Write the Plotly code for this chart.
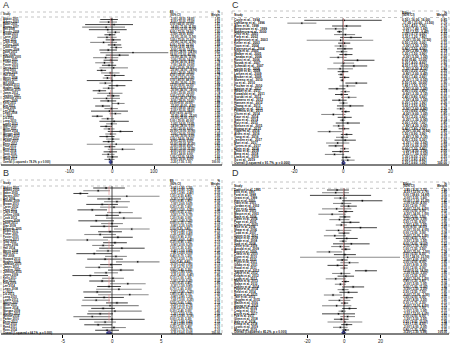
import math
import plotly.graph_objects as go

# ---------------- data ----------------
names_A = ["Abbott 2001","Adams 2003","Baker 2005","Barnes 2007","Bell 2008","Brooks 2009","Brown 2010","Carter 2002","Chen 2011","Clark 2004",
           "Collins 2006","Cook 2012","Cooper 2008","Davis 2013","Diaz 2009","Edwards 2005","Evans 2011","Fisher 2007","Foster 2010","Garcia 2012",
           "Gray 2003","Green 2006","Hall 2014","Harris 2008","Hayes 2011","Hill 2009","Howard 2013","Hughes 2004","Jackson 2010","James 2012",
           "Jenkins 2007","Johnson 2015","Jones 2009","Kelly 2011","Kim 2013","King 2006","Lee 2014","Lewis 2008","Li 2012","Liu 2015",
           "Long 2010","Lopez 2013","Martin 2007","Miller 2011","Moore 2014","Morgan 2009","Murphy 2012","Nelson 2016","Parker 2010","Perez 2013",
           "Price 2015","Reed 2011","Ross 2014","Scott 2016","Smith 2012","Wang 2017"]
est_A = [-2,-8,5,-14,-10,8,-5,-12,3,-20, 6,10,-9,50,18,-15,-3,-18,-7,4, -25,-4,6,-11,0,-16,12,-8,-30,-5,
         3,-13,-9,15,-22,-2,-6,8,-35,-10, 5,-1,-14,-7,20,-3,-12,2,-8,10, -5,25,-4,-9,1,-6]
lo_A = [-28,-30,-64,-71,-55,-12,-18,-35,-15,-52, -10,-4,-30,-28,-15,-45,-20,-40,-24,-30, -36,-26,-18,-22,-60,-30,-8,-22,-46,-35,
        -12,-45,-28,0,-40,-18,-50,-6,-48,-25, -30,-14,-28,-20,-10,-16,-30,-14,-22,-60, -18,-10,-20,-24,-12,-18]
hi_A = [14,12,50,31,35,19,8,11,21,12, 22,24,12,134,40,15,14,4,10,38, -14,18,30,0,48,-2,32,6,-14,25,
        18,19,10,30,-4,14,38,22,-22,5, 40,12,0,6,50,10,6,18,6,97, 8,55,12,6,14,6]
w_A = [1.85,1.82,1.41,1.52,1.55,1.90,1.93,1.80,1.88,1.66, 1.89,1.91,1.82,0.62,1.70,1.72,1.90,1.78,1.88,1.62,
       1.92,1.84,1.79,1.93,1.40,1.90,1.84,1.91,1.88,1.74, 1.92,1.69,1.86,1.88,1.85,1.91,1.55,1.92,1.90,1.91,
       1.66,1.93,1.90,1.92,1.72,1.93,1.86,1.91,1.92,0.85, 1.92,1.65,1.90,1.91,1.93,1.93]
overall_A = [-3.2, -7.5, 1.1]
overall_label_A = "Overall (I-squared = 78.3%, p = 0.000)"
ticks_A = [-100, 0, 100]
ticktext_A = ["-100", "0", "100"]

names_B = names_A[:53]
est_B = [-0.6,-1.4,-3.2,1.5,-0.3,0.5,-1.0,0.2,-2.0,0.8, -0.5,1.2,-1.6,0.0,-0.8,2.0,-0.2,-1.2,0.6,-2.5,
         0.3,-0.9,1.0,-0.4,-1.8,0.4,-0.7,2.6,-0.1,-1.3, 0.9,-0.6,-2.2,0.1,-1.0,1.6,-0.3,0.7,-1.5,1.8,
         -0.8,-1.6,0.5,-0.2,-0.9,0.3,-1.2,-2.0,0.0,-0.7, -1.4,0.2,-0.5]
lo_B = [-1.9,-2.9,-3.9,-2.5,-1.5,-0.8,-2.6,-1.2,-3.5,-0.5, -1.7,-0.6,-3.4,-1.1,-2.2,0.2,-1.4,-2.8,-0.9,-4.6,
        -0.9,-2.0,-1.3,-1.6,-3.6,-0.7,-2.5,0.4,-1.2,-2.7, -0.4,-1.8,-4.0,-1.0,-2.3,-0.2,-1.5,-1.6,-2.9,-1.4,
        -2.8,-3.0,-0.6,-3.1,-2.1,-2.4,-2.5,-3.9,-3.3,-1.8, -2.8,-1.0,-1.7]
hi_B = [1.3,-0.2,-2.4,4.8,0.9,1.8,0.6,1.6,-0.5,2.1, 0.7,3.0,0.2,1.1,0.6,3.8,1.0,0.4,2.1,-0.4,
        1.5,0.2,3.3,0.8,0.0,1.5,1.1,4.8,1.0,0.1, 2.2,0.6,-0.4,1.2,0.3,3.4,0.9,3.0,-0.1,3.7,
        1.2,-0.2,1.6,2.7,0.3,3.0,0.1,-0.1,3.3,0.4, 0.0,1.4,0.7]
w_B = [1.95,2.05,2.25,1.05,2.10,2.05,1.95,2.00,1.98,2.05, 2.10,1.85,1.85,2.15,2.00,1.85,2.10,1.95,1.98,1.70,
       2.10,2.15,1.60,2.10,1.85,2.15,1.85,1.65,2.15,2.00, 2.05,2.10,1.85,2.15,2.05,1.85,2.10,1.60,2.00,1.50,
       1.75,2.00,2.15,1.30,2.10,1.40,2.05,1.80,1.20,2.15, 2.00,2.10,2.10]
overall_B = [-0.30, -0.60, 0.00]
overall_label_B = "Overall (I-squared = 64.1%, p = 0.000)"
ticks_B = [-5, 0, 5]
ticktext_B = ["-5", "0", "5"]

names_C = ["Coyle et al., 1994","Dahlberg et al., 1996","Allen et al., 1998","Bergstrom et al., 1999","Nakamura et al., 2000",
           "Ortiz et al., 2001","Park et al., 2002","Andersson et al., 2003","Keller et al., 2003","Yoon et al., 2004",
           "Petersen et al., 2004","Silva et al., 2005","Walker et al., 2005","Tanaka et al., 2006","Rossi et al., 2006",
           "Novak et al., 2007","Schmidt et al., 2007","Costa et al., 2008","Meyer et al., 2008","Larsen et al., 2009",
           "Becker et al., 2009","Moreno et al., 2010","Ito et al., 2010","Fischer et al., 2010","Santos et al., 2011",
           "Weber et al., 2011","Kowalski et al., 2011","Suzuki et al., 2012","Romero et al., 2012","Hansen et al., 2012",
           "Zhang et al., 2013","Wagner et al., 2013","Ferreira et al., 2013","Olsen et al., 2014","Kaur et al., 2014",
           "Sato et al., 2014","Ruiz et al., 2015","Nielsen et al., 2015","Huang et al., 2015","Vogel et al., 2016",
           "Alves et al., 2016","Yang et al., 2016","Jensen et al., 2017","Mori et al., 2017","Torres et al., 2017",
           "Klein et al., 2018","Zhou et al., 2018","Berg et al., 2018","Lima et al., 2019","Xu et al., 2019"]
est_C = [0.5,-17,1.5,-3,-1.5,1.0,3.3,-1.0,0.5,-1.0, 0.8,-0.5,1.2,-2.0,6.0,0.3,4.5,-1.2,0.0,-0.8,
         0.6,-0.3,5.5,1.8,-2.5,0.9,-0.6,2.4,-1.5,0.2, 3.0,-0.9,1.1,-4.0,0.7,-0.2,2.0,-1.8,0.4,-5.5,
         1.5,-0.4,0.9,-2.2,-3.0,0.6,-1.0,-3.5,1.3,2.0]
lo_C = [-16,-23,-4.5,-7.4,-2.5,-3.7,-1.2,-15,-2.0,-3.5, -2.5,-2.8,-1.5,-5.5,0.4,-4.0,-1.0,-6.5,-2.2,-2.0,
        -1.4,-1.1,1.0,-1.5,-6.0,-1.0,-3.3,-0.8,-4.5,-1.5, -2.5,-2.6,-0.6,-9.0,-2.2,-1.3,-3.0,-4.2,-1.8,-10.5,
        -0.9,-2.9,-3.5,-7.0,-6.0,-1.2,-4.5,-7.5,-0.5,-0.8]
hi_C = [16,-11,7.5,1.6,-0.4,5.0,7.8,12.5,3.0,1.5, 4.0,1.8,3.9,1.5,13.0,4.6,10.0,4.1,2.2,0.4,
        2.6,0.5,10.0,5.1,1.0,2.8,2.1,5.6,1.5,1.9, 8.5,0.8,2.8,1.0,3.6,0.9,7.0,0.6,2.6,-0.5,
        3.9,2.1,5.3,2.6,0.0,2.4,2.5,0.5,3.1,4.8]
w_C = [0.85,1.70,1.70,1.90,2.35,1.92,1.90,1.00,2.15,2.15, 2.05,2.18,2.12,2.00,1.65,1.92,1.78,1.80,2.20,2.32,
       2.22,2.38,1.90,2.03,2.00,2.24,2.12,2.05,2.08,2.26, 1.78,2.26,2.26,1.85,2.10,2.34,1.85,2.16,2.20,1.85,
       2.16,2.15,1.92,1.88,2.08,2.25,2.00,1.95,2.25,2.10]
overall_C = [0.20, -0.60, 1.00]
overall_label_C = "Overall (I-squared = 91.7%, p = 0.000)"
ticks_C = [-20, 0, 20]
ticktext_C = ["-20", "0", "20"]

names_D = ["Dawson et al. 1995","Ellis et al. 1997","Ford et al. 1998","Grant et al. 1999","Hart et al. 2000","Irwin et al. 2001",
           "Jordan et al. 2002","Kerr et al. 2002","Lane et al. 2003","Mason et al. 2003","Nash et al. 2004","Owen et al. 2004",
           "Page et al. 2005","Quinn et al. 2005","Rice et al. 2006","Shaw et al. 2006","Todd et al. 2007","Upton et al. 2007",
           "Vance et al. 2008","Wade et al. 2008","York et al. 2008","Zeller et al. 2009","Arnold et al. 2009","Boyd et al. 2009",
           "Cross et al. 2010","Dunn et al. 2010","Elliot et al. 2010","Flynn et al. 2011","Gibbs et al. 2011","Hood et al. 2011",
           "Ingram et al. 2012","Joyce et al. 2012","Knight et al. 2012","Lowe et al. 2013","Marsh et al. 2013","Nolan et al. 2013",
           "Oakley et al. 2014","Payne et al. 2014","Reid et al. 2014","Stone et al. 2015","Tate et al. 2015","Vaughn et al. 2015",
           "Walsh et al. 2016","Young et al. 2016","Baird et al. 2016","Craig et al. 2017","Doyle et al. 2017","Fox et al. 2017",
           "Glenn et al. 2018","Hale et al. 2018","Kemp et al. 2018","Lyons et al. 2019","Moss et al. 2019"]
est_D = [-3.8,-4.5,0.0,-2.0,10.0,-1.0,2.5,-4.0,1.0,-6.5, 0.5,-2.5,3.5,-1.5,9.0,-3.0,0.0,-5.0,1.5,-0.5,
         4.0,-2.0,1.0,-8.0,0.5,2.0,-1.0,3.0,-3.5,0.0, 12.0,-1.5,1.0,-4.5,0.8,-2.0,5.0,-0.5,2.5,-6.0,
         1.5,-2.5,0.3,-4.0,3.0,-1.0,-3.0,2.0,-1.5,0.5, 1.5,-2.0,0.8]
lo_D = [-9.3,-12.0,-18.6,-5.5,-1.0,-6.0,-2.0,-12.0,-3.0,-14.0, -2.5,-8.0,-1.5,-4.5,0.0,-10.0,-3.0,-11.0,-4.5,-2.5,
        -6.0,-7.0,-1.5,-15.0,-5.5,-24.0,-4.0,-2.0,-9.0,-2.0, 6.0,-6.5,-3.5,-10.0,-1.2,-5.0,-1.0,-3.5,-2.5,-11.0,
        -2.0,-8.5,-1.7,-12.0,-1.0,-3.0,-12.0,-2.0,-5.5,-9.0, -1.5,-6.0,-1.2]
hi_D = [2.7,2.7,14.8,1.6,21.0,4.0,7.0,4.0,5.0,1.0, 3.5,3.0,8.5,1.5,18.0,4.0,3.0,1.0,7.5,1.5,
        14.0,3.0,3.5,-1.0,6.5,33.0,2.0,8.0,2.0,2.0, 18.0,3.5,5.5,1.0,2.8,1.0,11.0,2.5,7.5,-1.0,
        5.0,3.5,2.3,4.0,7.0,1.0,6.0,6.0,2.5,10.0, 4.5,2.0,2.8]
w_D = [1.90,1.80,1.05,2.05,1.45,1.95,2.00,1.70,2.02,1.75, 2.08,1.92,1.95,2.08,1.60,1.78,2.08,1.90,1.90,2.15,
       1.52,1.95,2.10,1.78,1.90,0.55,2.08,1.95,1.92,2.15, 1.90,1.95,2.00,1.92,2.15,2.08,1.90,2.08,1.95,1.95,
       2.05,1.90,2.15,1.70,2.02,2.15,1.60,2.02,2.02,1.58, 2.08,2.02,2.15]
overall_D = [-0.20, -1.30, 0.90]
overall_label_D = "Overall (I-squared = 85.2%, p = 0.000)"
ticks_D = [-20, 0, 20]
ticktext_D = ["-20", "0", "20"]

# ---------------- layout helpers ----------------
W, H = 454, 343
FONT = "Liberation Sans, Arial, sans-serif"
INK = "rgba(0,0,0,0.99)"


def fx(px):
    return px / W


def fy(py):
    return 1 - py / H


panels = [
    dict(letter="A", names=names_A, est=est_A, lo=lo_A, hi=hi_A, w=w_A, ov=overall_A, ovlab=overall_label_A,
         ticks=ticks_A, ticktext=ticktext_A, es_head=("ES", "(95% CI)"),
         box=(1, 222, 12, 165), row0=19.5, rowN=162.0, hdr=14.5, sep=17.0,
         zero=112, scale=0.42, forest=(30, 195), name_x=3, es_x=170, w_x=220, fs=2.7, letter_xy=(2, -1)),
    dict(letter="B", names=names_B, est=est_B, lo=lo_B, hi=hi_B, w=w_B, ov=overall_B, ovlab=overall_label_B,
         ticks=ticks_B, ticktext=ticktext_B, es_head=("ES", "(95% CI)"),
         box=(1, 222, 180, 334), row0=188.0, rowN=333.0, hdr=183.5, sep=186.0,
         zero=112, scale=9.9, forest=(30, 195), name_x=3, es_x=170, w_x=220, fs=2.8, letter_xy=(2, 167)),
    dict(letter="C", names=names_C, est=est_C, lo=lo_C, hi=hi_C, w=w_C, ov=overall_C, ovlab=overall_label_C,
         ticks=ticks_C, ticktext=ticktext_C, es_head=("Effect", "(95% CI)"),
         box=(232, 449, 11, 165), row0=20.3, rowN=163.0, hdr=15.0, sep=17.5,
         zero=343, scale=2.42, forest=(270, 400), name_x=234, es_x=402, w_x=447, fs=3.2, letter_xy=(231, -1)),
    dict(letter="D", names=names_D, est=est_D, lo=lo_D, hi=hi_D, w=w_D, ov=overall_D, ovlab=overall_label_D,
         ticks=ticks_D, ticktext=ticktext_D, es_head=("Effect", "(95% CI)"),
         box=(232, 449, 182, 334), row0=190.0, rowN=332.7, hdr=186.0, sep=188.3,
         zero=344, scale=1.83, forest=(270, 400), name_x=234, es_x=403, w_x=447, fs=3.0, letter_xy=(231, 167)),
]

fig = go.Figure()
layout = dict(width=W, height=H, margin=dict(l=0, r=0, t=0, b=0), paper_bgcolor="white",
              plot_bgcolor="rgba(0,0,0,0)", showlegend=False, font=dict(family=FONT, color="black"))
shapes = []
annotations = []

for k, p in enumerate(panels):
    xf_n, xt_n, y_n = 2 * k + 1, 2 * k + 2, k + 1
    xf = "x" if xf_n == 1 else f"x{xf_n}"
    xt = f"x{xt_n}"
    yy = "y" if y_n == 1 else f"y{y_n}"
    xf_key = "xaxis" if xf_n == 1 else f"xaxis{xf_n}"
    xt_key = f"xaxis{xt_n}"
    y_key = "yaxis" if y_n == 1 else f"yaxis{y_n}"

    bl, br, bt, bb = p["box"]
    n = len(p["names"])
    s = (p["rowN"] - p["row0"]) / n
    row0 = p["row0"]

    def yi(py, row0=row0, s=s):
        return (py - row0) / s

    fl, fr = p["forest"]
    layout[xf_key] = dict(domain=[fx(fl), fx(fr)],
                          range=[(fl - p["zero"]) / p["scale"], (fr - p["zero"]) / p["scale"]],
                          anchor=yy, tickvals=p["ticks"], ticks="outside", showticklabels=False,
                          ticklen=2.5, tickwidth=0.8, tickcolor="black", showgrid=False, zeroline=False,
                          showline=False, fixedrange=True)
    layout[xt_key] = dict(domain=[fx(bl), fx(br)], range=[bl, br], anchor=yy, visible=False, fixedrange=True)
    layout[y_key] = dict(domain=[fy(bb), fy(bt)], range=[yi(bb), yi(bt)], visible=False, fixedrange=True)

    # box borders
    dash_line = dict(color="#b5b5b5", width=0.8, dash="dot")
    for (x0, y0, x1, y1) in [(bl, bt, br, bt), (bl, bt, bl, bb), (br, bt, br, bb), (bl, p["sep"], br, p["sep"])]:
        shapes.append(dict(type="line", xref="paper", yref="paper", x0=fx(x0), y0=fy(y0), x1=fx(x1), y1=fy(y1),
                           line=dash_line, layer="below"))
    shapes.append(dict(type="line", xref="paper", yref="paper", x0=fx(bl), y0=fy(bb), x1=fx(br), y1=fy(bb),
                       line=dict(color="black", width=1)))
    # null line and overall line
    shapes.append(dict(type="line", xref=xf, yref=yy, x0=0, x1=0, y0=-0.7, y1=yi(bb),
                       line=dict(color="black", width=0.7)))
    shapes.append(dict(type="line", xref=xf, yref=yy, x0=p["ov"][0], x1=p["ov"][0], y0=-0.7, y1=n,
                       line=dict(color="#e58a8a", width=0.6, dash="dash")))

    rows = list(range(n))
    # weight squares
    fig.add_trace(go.Scatter(x=p["est"], y=rows, mode="markers", xaxis=xf, yaxis=yy, hoverinfo="skip",
                             marker=dict(symbol="square", size=[1.6 * math.sqrt(v) + 0.4 for v in p["w"]],
                                         color="#bcbcbc", line=dict(width=0))))
    # CI lines: dark and grey tones alternate, as in the reference rendering
    for tone, col, wid in [(0, "#111111", 0.8), (1, "#8c8c8c", 1.1)]:
        cx, cy = [], []
        for i in rows:
            if i % 2 == tone:
                cx += [p["lo"][i], p["hi"][i], None]
                cy += [i, i, None]
        fig.add_trace(go.Scatter(x=cx, y=cy, mode="lines", xaxis=xf, yaxis=yy, hoverinfo="skip",
                                 line=dict(color=col, width=wid)))
    # point estimates
    fig.add_trace(go.Scatter(x=p["est"], y=rows, mode="markers", xaxis=xf, yaxis=yy, hoverinfo="skip",
                             marker=dict(symbol="diamond", size=1.4, color="black", line=dict(width=0))))
    # overall diamond
    e, l, h = p["ov"]
    fig.add_trace(go.Scatter(x=[l, e, h, e, l], y=[n, n - 0.9, n, n + 0.9, n], mode="lines", fill="toself",
                             fillcolor="#2f3a8f", line=dict(color="#2f3a8f", width=0.6),
                             xaxis=xf, yaxis=yy, hoverinfo="skip"))

    # tick labels under the axis, placed on the panel's own x scale
    for tv, tt in zip(p["ticks"], p["ticktext"]):
        annotations.append(dict(text=tt, x=tv, xref=xf, y=fy(bb + 3.5), yref="paper",
                                xanchor="center", yanchor="top", showarrow=False, borderpad=0,
                                font=dict(family=FONT, size=4.5, color="#222")))

    tf = dict(family=FONT, size=p["fs"], color=INK, weight="bold")
    all_rows = rows + [n]
    fig.add_trace(go.Scatter(x=[p["name_x"]] * (n + 1), y=all_rows, text=p["names"] + [p["ovlab"]],
                             mode="text", textposition="middle right", textfont=tf, cliponaxis=False,
                             xaxis=xt, yaxis=yy, hoverinfo="skip"))
    es_txt = ["%.2f (%.2f, %.2f)" % (p["est"][i], p["lo"][i], p["hi"][i]) for i in rows]
    es_txt.append("%.2f (%.2f, %.2f)" % (e, l, h))
    fig.add_trace(go.Scatter(x=[p["es_x"]] * (n + 1), y=all_rows, text=es_txt,
                             mode="text", textposition="middle right", textfont=tf, cliponaxis=False,
                             xaxis=xt, yaxis=yy, hoverinfo="skip"))
    w_txt = ["%.2f" % v for v in p["w"]] + ["100.00"]
    fig.add_trace(go.Scatter(x=[p["w_x"]] * (n + 1), y=all_rows, text=w_txt,
                             mode="text", textposition="middle left", textfont=tf, cliponaxis=False,
                             xaxis=xt, yaxis=yy, hoverinfo="skip"))
    # headers
    hy1, hy2 = yi(p["hdr"] - 2.0), yi(p["hdr"] + 0.5)
    fig.add_trace(go.Scatter(x=[p["name_x"], p["es_x"], p["es_x"]], y=[yi(p["hdr"]), hy1, hy2],
                             text=["Study", p["es_head"][0], p["es_head"][1]],
                             mode="text", textposition="middle right", textfont=tf, cliponaxis=False,
                             xaxis=xt, yaxis=yy, hoverinfo="skip"))
    fig.add_trace(go.Scatter(x=[p["w_x"], p["w_x"]], y=[hy1, hy2], text=["%", "Weight"],
                             mode="text", textposition="middle left", textfont=tf, cliponaxis=False,
                             xaxis=xt, yaxis=yy, hoverinfo="skip"))

    lx, ly = p["letter_xy"]
    annotations.append(dict(text=p["letter"], x=fx(lx), y=fy(ly), xref="paper", yref="paper",
                            xanchor="left", yanchor="top", showarrow=False, borderpad=0,
                            font=dict(family=FONT, size=9, color="#333")))

layout["shapes"] = shapes
layout["annotations"] = annotations
fig.update_layout(**layout)
fig.write_html("out.html", config={"displayModeBar": False},
               post_script="document.body.style.margin='0px'; document.body.style.overflow='hidden';")
